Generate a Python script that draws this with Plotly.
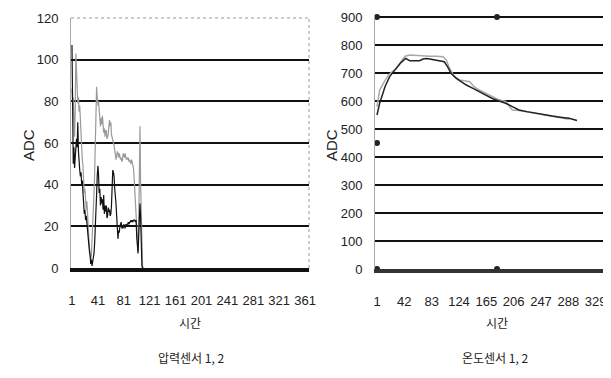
import plotly.graph_objects as go

# ---------------- data ----------------
# Pressure sensors (left chart): time index and ADC values
PRESS_T = list(range(1, 112))
PRESS_1 = [107, 55, 50, 58, 48, 53, 60, 62, 58, 70, 56, 48, 47, 44, 46, 40, 42, 36, 30, 26,
           28, 23, 25, 21, 20, 16, 12, 8, 6, 2, 4, 1, 3, 5, 7, 12, 18, 23, 35, 44,
           49, 45, 36, 38, 30, 34, 31, 33, 28, 35, 26, 30, 27, 30, 24, 25, 29, 27, 28, 25,
           26, 30, 40, 47, 46, 44, 38, 35, 31, 25, 18, 14, 18, 17, 20, 22, 22, 19, 20, 19,
           21, 20, 19, 21, 20, 21, 21, 22, 21, 22, 22, 23, 22, 23, 22, 23, 23, 23, 22, 23,
           15, 8, 7, 15, 23, 31, 24, 10, 1, 0, 0]
PRESS_2 = [86, 78, 82, 70, 63, 75, 103, 95, 85, 79, 82, 75, 78, 68, 63, 58, 52, 49, 42, 36,
           38, 30, 28, 32, 23, 20, 15, 10, 7, 4, 6, 12, 23, 30, 36, 45, 60, 75, 87, 82,
           78, 80, 74, 70, 68, 72, 69, 73, 70, 65, 67, 63, 66, 66, 62, 63, 64, 68, 71, 68,
           70, 64, 62, 62, 60, 59, 57, 55, 52, 54, 56, 55, 53, 55, 54, 52, 53, 51, 52, 55,
           54, 53, 55, 54, 52, 53, 52, 53, 51, 52, 51, 50, 52, 51, 50, 48, 43, 36, 28, 23,
           16, 10, 8, 20, 63, 68, 40, 23, 8, 1, 0]
PRESS_TICKS = [1, 41, 81, 121, 161, 201, 241, 281, 321, 361]
PRESS_Y_TICKS = [0, 20, 40, 60, 80, 100, 120]

# Temperature sensors (right chart)
TEMP_T1 = [1, 2, 5, 13, 20, 28, 36, 44, 50, 58, 65, 70, 75, 80, 87, 95, 102, 107, 112, 120,
           127, 135, 145, 154, 164, 174, 184, 194, 204, 214, 226, 239, 251, 264, 276, 289, 301]
TEMP_1 = [550, 560, 592, 651, 687, 711, 735, 752, 744, 744, 744, 750, 752, 750, 746, 744, 740,
          722, 699, 681, 670, 657, 645, 633, 621, 609, 600, 592, 580, 568, 562, 556, 551, 546,
          542, 538, 530]
TEMP_T2 = [1, 5, 11, 18, 24, 30, 37, 43, 50, 60, 70, 80, 90, 100, 105, 110, 117, 125, 132, 140,
           147, 154, 164, 174, 184, 194, 204, 214, 224, 236, 249, 261, 274, 289]
TEMP_2 = [580, 639, 665, 692, 705, 716, 740, 760, 764, 762, 760, 760, 760, 758, 746, 716, 687,
          675, 672, 669, 650, 639, 628, 616, 604, 598, 568, 566, 562, 556, 550, 546, 542, 535]
MARK_T = [1, 1, 1, 181, 181]
MARK_V = [900, 450, 0, 900, 0]
TEMP_TICKS = [1, 42, 83, 124, 165, 206, 247, 288, 329]
TEMP_Y_TICKS = [0, 100, 200, 300, 400, 500, 600, 700, 800, 900]

# The page body has an 8px margin, so the figure is sized to fit the window
OFF = 8
W, H = 611 - OFF, 378 - OFF


def px(x):
    return (x - OFF) / W


def py(y):
    return (H - (y - OFF)) / H


TICK_FONT = dict(family="Liberation Sans Narrow, Liberation Sans, Arial", size=13, color="#222")
KR_FONT = dict(family="Noto Sans CJK KR", size=12, color="#222")

fig = go.Figure()
fig.add_trace(go.Scatter(x=PRESS_T, y=PRESS_2, mode="lines", line=dict(color="#9a9a9a", width=1.2),
                         xaxis="x", yaxis="y", showlegend=False))
fig.add_trace(go.Scatter(x=PRESS_T, y=PRESS_1, mode="lines", line=dict(color="#111", width=1.2),
                         xaxis="x", yaxis="y", showlegend=False))
fig.add_trace(go.Scatter(x=TEMP_T2, y=TEMP_2, mode="lines", line=dict(color="#a8a8a8", width=1.5),
                         xaxis="x2", yaxis="y2", showlegend=False))
fig.add_trace(go.Scatter(x=TEMP_T1, y=TEMP_1, mode="lines", line=dict(color="#222", width=1.5),
                         xaxis="x2", yaxis="y2", showlegend=False))
fig.add_trace(go.Scatter(x=MARK_T, y=MARK_V, mode="markers", marker=dict(color="#222", size=6),
                         xaxis="x2", yaxis="y2", showlegend=False, cliponaxis=False))

common_x = dict(showgrid=False, zeroline=False, ticks="", showline=True, linewidth=4,
                tickfont=TICK_FONT, ticklabelstandoff=17, tickmode="array", tickangle=0,
                automargin=False)
common_y = dict(showgrid=True, gridcolor="#111", gridwidth=1.5, zeroline=False, ticks="",
                showline=True, linecolor="#aaa", linewidth=1, tickfont=TICK_FONT,
                ticklabelstandoff=9, tickmode="array", automargin=False)

fig.update_layout(
    width=W, height=H, margin=dict(l=0, r=0, t=0, b=0, autoexpand=False),
    paper_bgcolor="white", plot_bgcolor="white",
    xaxis=dict(domain=[px(71), px(309)], range=[-0.5, 367], tickvals=PRESS_TICKS,
               linecolor="#111", anchor="y", **common_x),
    yaxis=dict(domain=[py(268), py(18)], range=[0, 120], tickvals=PRESS_Y_TICKS,
               anchor="x", **common_y),
    xaxis2=dict(domain=[px(375), 1.0], range=[-2, 352], tickvals=TEMP_TICKS,
                linecolor="#333", anchor="y2", **common_x),
    yaxis2=dict(domain=[py(269), py(15)], range=[0, 907], tickvals=TEMP_Y_TICKS,
                anchor="x2", **common_y),
)

# left chart top/right border (light dotted) over the top grid line
fig.add_shape(type="line", xref="x domain", yref="y domain", x0=0, x1=1, y0=1, y1=1,
              line=dict(color="white", width=2.5), layer="above")
fig.add_shape(type="line", xref="x domain", yref="y domain", x0=0, x1=1, y0=1, y1=1,
              line=dict(color="#999", width=1, dash="dot"), layer="above")
fig.add_shape(type="line", xref="x domain", yref="y domain", x0=1, x1=1, y0=0, y1=1,
              line=dict(color="#999", width=1, dash="dot"), layer="above")

ann = [
    dict(text="ADC", x=px(28), y=py(145), textangle=-90,
         font=dict(family="Liberation Sans, Arial", size=15, color="#222")),
    dict(text="ADC", x=px(331), y=py(145), textangle=-90,
         font=dict(family="Liberation Sans, Arial", size=15, color="#222")),
    dict(text="시간", x=px(190), y=py(322), font=KR_FONT),
    dict(text="시간", x=px(497), y=py(322), font=KR_FONT),
    dict(text="압력센서 1, 2", x=px(191), y=py(357), font=KR_FONT),
    dict(text="온도센서 1, 2", x=px(495), y=py(357), font=KR_FONT),
]
for a in ann:
    fig.add_annotation(xref="paper", yref="paper", showarrow=False, xanchor="center",
                       yanchor="middle", **a)

fig.write_html("out.html")
